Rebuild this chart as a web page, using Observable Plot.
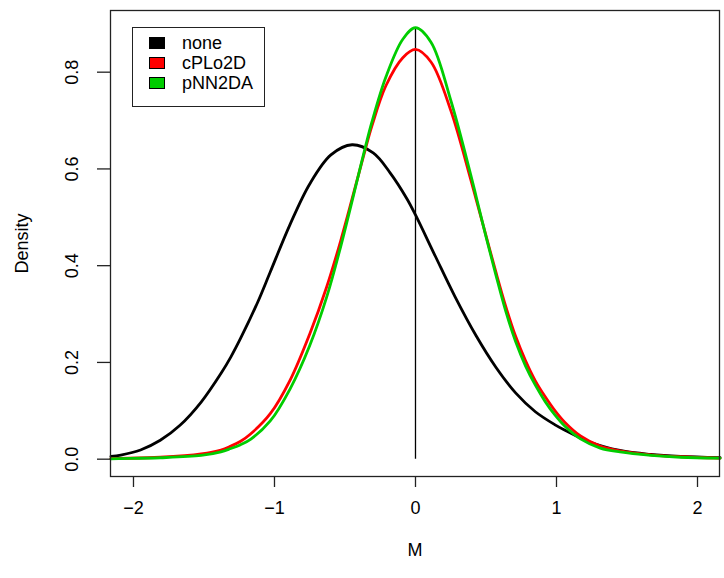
<!DOCTYPE html>
<html>
<head>
<meta charset="utf-8">
<script src="https://cdn.jsdelivr.net/npm/d3@7"></script>
<script src="https://cdn.jsdelivr.net/npm/@observablehq/plot@0.6"></script>
<style>
  html, body { margin: 0; padding: 0; background: #fff; }
  #wrap { position: relative; width: 724px; height: 578px; font-family: "Liberation Sans", Arial, sans-serif; }
  #legend { position: absolute; left: 132px; top: 27px; width: 133px; height: 80px; border: 1.3px solid #222; box-sizing: border-box; background: #fff; }
  .item { position: absolute; left: 16px; height: 20px; display: flex; align-items: center; font-size: 18px; color: #000; }
  .sw { width: 14px; height: 10px; border: 1px solid #000; margin-right: 17px; }
</style>
</head>
<body>
<div id="wrap"><div id="chart"></div><div id="legend"></div></div>
<script>
// ---- data ----
const seriesNames = ["none", "cPLo2D", "pNN2DA"];
const seriesColors = ["#000000", "#FF0000", "#00CD00"];

const noneX = [-2.16, -2.09, -1.95, -1.81, -1.67, -1.52, -1.38, -1.31, -1.24, -1.12, -1.03, -0.89, -0.75, -0.60, -0.45, -0.30, -0.18, -0.06, 0, 0.14, 0.28, 0.43, 0.57, 0.71, 0.85, 0.99, 1.06, 1.24, 1.45, 1.67, 1.88, 2.16];
const noneY = [0.0057, 0.0085, 0.019, 0.039, 0.070, 0.118, 0.177, 0.211, 0.250, 0.324, 0.387, 0.485, 0.569, 0.629, 0.650, 0.633, 0.592, 0.538, 0.505, 0.420, 0.336, 0.255, 0.190, 0.137, 0.098, 0.071, 0.060, 0.035, 0.018, 0.0097, 0.0056, 0.003];

const cploX = [-2.16, -2.09, -1.81, -1.52, -1.38, -1.31, -1.24, -1.17, -1.03, -0.89, -0.75, -0.63, -0.53, -0.36, -0.31, -0.21, -0.09, 0, 0.11, 0.25, 0.39, 0.43, 0.50, 0.57, 0.64, 0.71, 0.78, 0.85, 0.92, 0.99, 1.06, 1.17, 1.31, 1.45, 1.67, 1.88, 2.16];
const cploY = [0.001, 0.0015, 0.004, 0.011, 0.019, 0.027, 0.037, 0.052, 0.094, 0.163, 0.259, 0.356, 0.452, 0.636, 0.688, 0.772, 0.830, 0.847, 0.821, 0.721, 0.580, 0.537, 0.462, 0.387, 0.316, 0.254, 0.204, 0.162, 0.129, 0.100, 0.076, 0.048, 0.027, 0.017, 0.009, 0.005, 0.002];

const pnnX = [-2.16, -2.09, -1.81, -1.52, -1.38, -1.31, -1.24, -1.17, -1.03, -0.89, -0.75, -0.63, -0.53, -0.36, -0.31, -0.21, -0.09, 0, 0.11, 0.25, 0.39, 0.43, 0.50, 0.57, 0.64, 0.71, 0.78, 0.85, 0.92, 0.99, 1.06, 1.17, 1.31, 1.45, 1.67, 1.88, 2.16];
const pnnY = [0.0008, 0.0012, 0.003, 0.0077, 0.015, 0.022, 0.030, 0.041, 0.079, 0.145, 0.235, 0.335, 0.440, 0.640, 0.696, 0.790, 0.868, 0.892, 0.862, 0.742, 0.590, 0.543, 0.460, 0.381, 0.306, 0.243, 0.193, 0.153, 0.119, 0.091, 0.068, 0.042, 0.023, 0.015, 0.008, 0.004, 0.002];

const xTicks = [-2, -1, 0, 1, 2];
const yTicks = [0.0, 0.2, 0.4, 0.6, 0.8];
const refLineX = 0;
const refLineTop = 0.892;
const xDomain = [-2.163, 2.156];
const yDomain = [-0.0358, 0.9275];

// ---- build table ----
const table = [];
[[noneX, noneY], [cploX, cploY], [pnnX, pnnY]].forEach(([xs, ys], i) => {
  xs.forEach((x, j) => table.push({series: seriesNames[i], x, y: ys[j]}));
});

const fmtX = d => (d < 0 ? "\u2212" : "") + Math.abs(d);
const font = '"Liberation Sans", Arial, sans-serif';
const chart = Plot.plot({
  width: 724,
  height: 578,
  marginLeft: 110,
  marginRight: 5,
  marginTop: 10,
  marginBottom: 102,
  style: {fontFamily: font, fontSize: "18px", background: "#fff", color: "#000"},
  x: {domain: xDomain},
  y: {domain: yDomain},
  color: {domain: seriesNames, range: seriesColors},
  marks: [
    Plot.ruleX([refLineX], {y1: 0, y2: refLineTop, stroke: "#000", strokeWidth: 1.3}),
    Plot.line(table, {x: "x", y: "y", z: "series", stroke: "series", strokeWidth: 2.8, curve: "catmull-rom"}),
    Plot.frame({stroke: "#222", strokeWidth: 1.3}),
    Plot.axisX({ticks: xTicks, tickSize: 11, tickPadding: 14, fontSize: 18, tickFormat: fmtX, label: null, stroke: "#222", strokeWidth: 1.3}),
    Plot.axisY({ticks: yTicks, tickSize: 13, tickFormat: () => "", label: null, stroke: "#222", strokeWidth: 1.3}),
    Plot.text(yTicks, {y: d => d, text: d => d.toFixed(1), frameAnchor: "left", dx: -38, rotate: -90, fontSize: 18, textAnchor: "middle"}),
    Plot.text(["Density"], {frameAnchor: "left", dx: -88, rotate: -90, fontSize: 18, textAnchor: "middle"}),
    Plot.text(["M"], {frameAnchor: "bottom", dy: 79, fontSize: 18, textAnchor: "middle"})
  ]
});
document.getElementById("chart").appendChild(chart);

const legend = document.getElementById("legend");
seriesNames.forEach((name, i) => {
  const it = document.createElement("div");
  it.className = "item";
  it.style.top = (5 + i * 20) + "px";
  it.innerHTML = `<span class="sw" style="background:${seriesColors[i]}"></span><span>${name}</span>`;
  legend.appendChild(it);
});
</script>
</body>
</html>
